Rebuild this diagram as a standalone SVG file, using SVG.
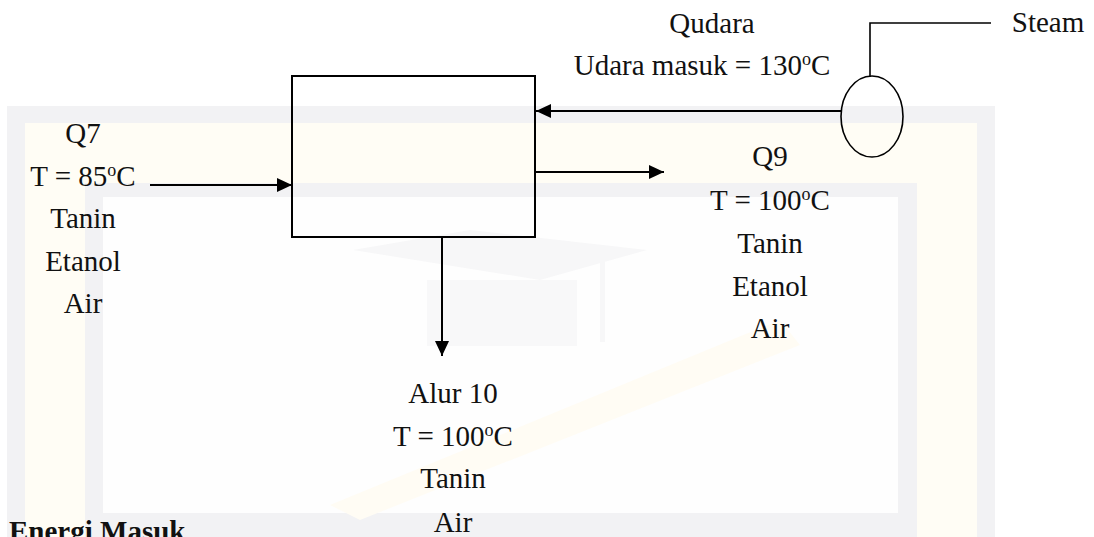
<svg xmlns="http://www.w3.org/2000/svg" width="1094" height="537" viewBox="0 0 1094 537">
<style>
.t{font-family:"Liberation Serif","Times New Roman",serif;font-size:29px;fill:#111;text-anchor:middle}
.b{font-family:"Liberation Serif","Times New Roman",serif;font-size:29px;font-weight:bold;fill:#111}
.ln{stroke:#000;stroke-width:2;fill:none}
.thin{stroke:#000;stroke-width:1.6;fill:none}
</style>
<defs>
<marker id="ah" markerWidth="15" markerHeight="14" refX="15" refY="7" orient="auto" markerUnits="userSpaceOnUse">
<path d="M0,0 L15,7 L0,14 Z" fill="#000"/>
</marker>
</defs>
<rect width="1094" height="537" fill="#fff"/>
<g id="watermark">
<rect x="7" y="106" width="988" height="460" fill="#f2f2f4"/>
<rect x="25" y="123" width="952" height="440" fill="#fffdf5"/>
<rect x="85" y="183" width="832" height="380" fill="#f2f2f4"/>
<rect x="103" y="197" width="795" height="316" fill="#fefefe"/>
<polygon points="353,250 470,230 647,250 540,280" fill="#f7f7f8"/>
<rect x="427" y="280" width="150" height="66" fill="#f8f8f9"/>
<rect x="600" y="262" width="5" height="80" fill="#f7f7f8"/>
<polygon points="330,505 780,320 800,345 360,520" fill="#fffcf4"/>
</g>
<g id="connectors">
<line class="ln" x1="150" y1="185" x2="292" y2="185" marker-end="url(#ah)"/>
<line class="ln" x1="841" y1="111" x2="536" y2="111" marker-end="url(#ah)"/>
<line class="ln" x1="536" y1="172" x2="664" y2="172" marker-end="url(#ah)"/>
<line class="ln" x1="442" y1="237" x2="442" y2="356" marker-end="url(#ah)"/>
<polyline class="thin" points="870,77 870,23 991,23"/>
</g>
<g id="dryer">
<rect x="292" y="76" width="243" height="161" fill="none" stroke="#000" stroke-width="2"/>
</g>
<g id="heater">
<ellipse cx="872" cy="116.5" rx="31" ry="40.5" fill="none" stroke="#000" stroke-width="1.6"/>
</g>
<g id="steam-label">
<text class="t" x="1048" y="32">Steam</text>
</g>
<g id="udara-label">
<text class="t" x="712" y="33">Qudara</text>
<text class="t" x="702" y="75">Udara masuk = 130<tspan font-size="18" dy="-10">o</tspan><tspan dy="10">C</tspan></text>
</g>
<g id="q7-label">
<text class="t" x="83" y="143">Q7</text>
<text class="t" x="83" y="186">T = 85<tspan font-size="18" dy="-10">o</tspan><tspan dy="10">C</tspan></text>
<text class="t" x="83" y="228">Tanin</text>
<text class="t" x="83" y="271">Etanol</text>
<text class="t" x="83" y="313">Air</text>
</g>
<g id="q9-label">
<text class="t" x="770" y="166">Q9</text>
<text class="t" x="770" y="210">T = 100<tspan font-size="18" dy="-10">o</tspan><tspan dy="10">C</tspan></text>
<text class="t" x="770" y="253">Tanin</text>
<text class="t" x="770" y="296">Etanol</text>
<text class="t" x="770" y="338">Air</text>
</g>
<g id="alur10-label">
<text class="t" x="453" y="403">Alur 10</text>
<text class="t" x="453" y="446">T = 100<tspan font-size="18" dy="-10">o</tspan><tspan dy="10">C</tspan></text>
<text class="t" x="453" y="488">Tanin</text>
<text class="t" x="453" y="532">Air</text>
</g>
<text class="b" x="9" y="541">Energi Masuk</text>
</svg>
